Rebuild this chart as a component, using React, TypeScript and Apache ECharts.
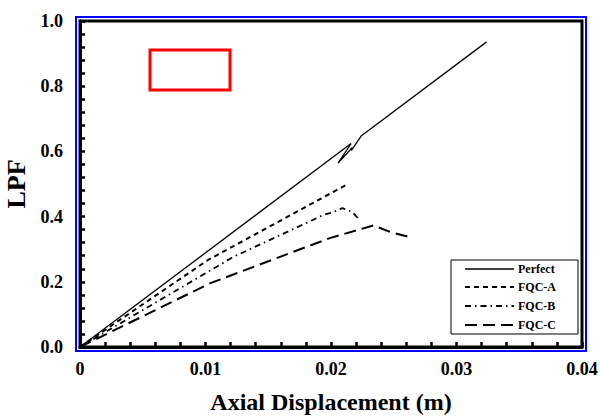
import React, { useEffect, useRef } from "react";
import * as echarts from "echarts";

const seriesNames = ["Perfect", "FQC-A", "FQC-B", "FQC-C"];

const perfectX = [0, 0.0216, 0.02056, 0.0217, 0.02163, 0.0224, 0.0324];
const perfectY = [0, 0.624, 0.564, 0.612, 0.603, 0.647, 0.936];

const fqcAX = [0, 0.0102, 0.0212];
const fqcAY = [0, 0.267, 0.497];

const fqcBX = [0, 0.0122, 0.0194, 0.0202, 0.0209, 0.0217, 0.0222];
const fqcBY = [0, 0.276, 0.405, 0.414, 0.426, 0.414, 0.393];

const fqcCX = [0, 0.0104, 0.0199, 0.0234, 0.0247, 0.0263];
const fqcCY = [0, 0.196, 0.334, 0.373, 0.353, 0.337];

const xTicks = [0, 0.01, 0.02, 0.03, 0.04];
const yTicks = [0, 0.2, 0.4, 0.6, 0.8, 1.0];

const FONT = "'Liberation Serif', 'Times New Roman', serif";

function pairs(xs: number[], ys: number[]) {
  return xs.map((x, i) => [x, ys[i]]);
}

export default function App() {
  const ref = useRef<HTMLDivElement>(null);
  useEffect(() => {
    if (!ref.current) return;
    const chart = echarts.init(ref.current, null, { renderer: "svg" });
    const styles = [
      { dash: null as any, width: 1.3 },
      { dash: [5, 4], width: 2 },
      { dash: [6, 4, 1.5, 4], width: 1.8 },
      { dash: [12, 6], width: 2 },
    ];
    const datasets = [
      pairs(perfectX, perfectY),
      pairs(fqcAX, fqcAY),
      pairs(fqcBX, fqcBY),
      pairs(fqcCX, fqcCY),
    ];
    const xMin = xTicks[0];
    const xMax = xTicks[xTicks.length - 1];
    const yMin = yTicks[0];
    const yMax = yTicks[yTicks.length - 1];

    const legLeft = 451;
    const legTop = 260;
    const legW = 127;
    const legH = 74;
    const rowY = [269, 287, 306, 325];
    const graphics: any[] = [
      {
        type: "rect",
        shape: { x: legLeft, y: legTop, width: legW, height: legH },
        style: { fill: "#fff", stroke: "#000", lineWidth: 1 },
        z: 10,
      },
      {
        type: "rect",
        shape: { x: 150, y: 50, width: 80, height: 40 },
        style: { fill: "none", stroke: "#f00", lineWidth: 3 },
        z: 10,
      },
      {
        type: "rect",
        shape: { x: 76, y: 17, width: 510, height: 334 },
        style: { fill: "none", stroke: "#00f", lineWidth: 2 },
        z: 10,
      },
    ];
    seriesNames.forEach((name, i) => {
      graphics.push({
        type: "line",
        shape: { x1: 465, y1: rowY[i], x2: 514, y2: rowY[i] },
        style: { stroke: "#000", lineWidth: styles[i].width, lineDash: styles[i].dash },
        z: 11,
      });
      graphics.push({
        type: "text",
        x: 518,
        y: rowY[i],
        style: {
          text: name,
          fill: "#000",
          font: `bold 12px ${FONT}`,
          verticalAlign: "middle",
          textAlign: "left",
        },
        z: 11,
      });
    });

    const axisCommon = {
      axisLine: { show: true, onZero: false, lineStyle: { color: "#000", width: 3 } },
      axisTick: { show: true, inside: true, length: 5, lineStyle: { color: "#000", width: 2.5 } },
      minorTick: { show: true, splitNumber: 5, length: 5, lineStyle: { color: "#000", width: 2.5 } },
      splitLine: { show: false },
    };

    chart.setOption({
      animation: false,
      backgroundColor: "#fff",
      grid: {
        left: 80,
        right: 18,
        top: 21,
        bottom: 70,
        containLabel: false,
        outerBoundsMode: "none",
        show: true,
        borderColor: "#000",
        borderWidth: 3,
        backgroundColor: "transparent",
      },
      graphic: graphics,
      xAxis: {
        type: "value",
        min: xMin,
        max: xMax,
        interval: 0.01,
        ...axisCommon,
        axisLabel: {
          margin: 13,
          fontFamily: FONT,
          fontWeight: "bold",
          fontSize: 18,
          color: "#000",
          formatter: (v: number) => {
            const t = xTicks.find((k) => Math.abs(k - v) < 1e-9);
            return t === 0 ? "0" : String(Number(v.toFixed(2)));
          },
        },
        name: "Axial Displacement (m)",
        nameLocation: "middle",
        nameGap: 43,
        nameTextStyle: { fontFamily: FONT, fontWeight: "bold", fontSize: 24, color: "#000" },
      },
      yAxis: {
        type: "value",
        min: yMin,
        max: yMax,
        interval: 0.2,
        ...axisCommon,
        axisLabel: {
          margin: 17,
          fontFamily: FONT,
          fontWeight: "bold",
          fontSize: 18,
          color: "#000",
          formatter: (v: number) => {
            const t = yTicks.find((k) => Math.abs(k - v) < 1e-9);
            return (t ?? v).toFixed(1);
          },
        },
        name: "LPF",
        nameLocation: "middle",
        nameGap: 41,
        nameTextStyle: { fontFamily: FONT, fontWeight: "bold", fontSize: 26, color: "#000" },
      },
      series: seriesNames.map((name, i) => ({
        name,
        type: "line",
        data: datasets[i],
        showSymbol: false,
        symbol: "none",
        color: "#000",
        lineStyle: { color: "#000", width: styles[i].width, type: styles[i].dash ?? "solid" },
        z: 3,
      })),
    });
    return () => chart.dispose();
  }, []);
  return <div ref={ref} style={{ width: 600, height: 417, position: "absolute", left: 0, top: 0 }} />;
}
